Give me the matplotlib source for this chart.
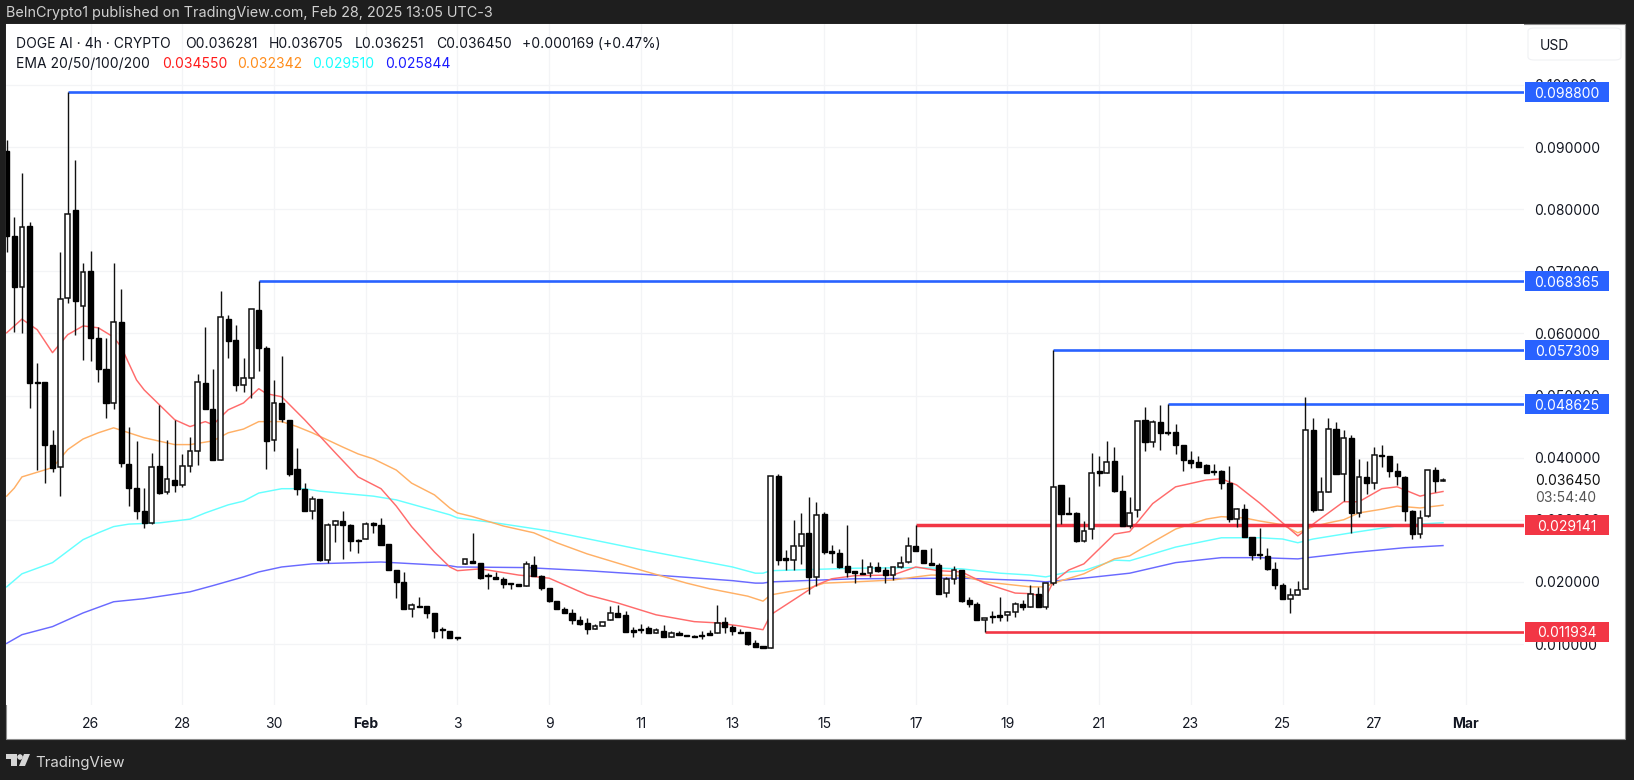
# DOGE AI 4h candles with EMA ribbon and support / resistance levels
import numpy as np
import matplotlib
matplotlib.use("Agg")
import matplotlib.pyplot as plt
from matplotlib.patches import Rectangle, FancyBboxPatch, Polygon
from matplotlib.transforms import blended_transform_factory

plt.rcParams['font.family'] = ['Inter', 'DejaVu Sans']

# candles (first bar is 11 bars before the "26" tick)
first_bar = -11
opens = [
    .0894, .0757, .0675, .0773, .0522, .0522, .0421, .0385, .0657, .0799, .0644,
    .0701, .0593, .0543, .0488, .0619, .0390, .0351, .0314, .0295, .0387,
    .0345, .0364, .0356, .0387, .0411, .0520, .0478, .0396, .0623, .0590,
    .0517, .0528, .0638, .0577, .0428, .0488, .0461, .0382, .0350, .0314,
    .0334, .0235, .0292, .0298, .0292, .0268, .0269, .0294, .0292, .0261,
    .0219, .0200, .0157, .0161, .0161, .0150, .0123, .0121, .0111, .0229,
    .0234, .0231, .0211, .0208, .0205, .0198, .0197, .0194, .0227, .0210,
    .0190, .0169, .0157, .0150, .0139, .0134, .0124, .0129, .0139, .0150,
    .0147, .0122, .0124, .0126, .0118, .0121, .0112, .0117, .0114, .0113,
    .0115, .0118, .0118, .0136, .0128, .0120, .0119, .0102, .0096, .0094,
    .0371, .0238, .0235, .0258, .0279, .0208, .0309, .0249, .0247, .0226,
    .0217, .0215, .0214, .0224, .0219, .0211, .0224, .0232, .0258, .0252,
    .0231, .0227, .0182, .0205, .0219, .0171, .0165, .0139, .0144, .0146,
    .0147, .0152, .0165, .0160, .0181, .0160, .0198, .0356, .0311, .0311,
    .0266, .0285, .0378, .0376, .0395, .0346, .0290, .0315, .0461, .0425,
    .0458, .0441, .0441, .0421, .0396, .0393, .0388, .0378, .0379, .0359,
    .0301, .0318, .0272, .0245, .0242, .0221, .0195, .0172, .0179, .0189,
    .0445, .0316, .0345, .0446, .0373, .0432, .0311, .0369, .0359, .0404,
    .0402, .0379, .0369, .0314, .0277, .0306, .0380, .036281,
]
highs = [
    .0912, .0788, .0858, .0780, .0553, .0522, .0445, .0731, .0988, .0879, .0714,
    .0733, .0611, .0593, .0714, .0672, .0450, .0427, .0351, .0408, .0485,
    .0429, .0461, .0406, .0433, .0535, .0611, .0543, .0668, .0630, .0614,
    .0561, .0640, .0684, .0580, .0525, .0564, .0461, .0416, .0359, .0338,
    .0334, .0295, .0299, .0314, .0293, .0269, .0296, .0296, .0303, .0261,
    .0219, .0216, .0166, .0176, .0161, .0150, .0128, .0121, .0111, .0237,
    .0279, .0231, .0214, .0216, .0208, .0198, .0197, .0234, .0242, .0211,
    .0190, .0169, .0159, .0157, .0145, .0142, .0132, .0136, .0161, .0163,
    .0153, .0128, .0132, .0129, .0126, .0131, .0121, .0121, .0114, .0115,
    .0121, .0123, .0163, .0144, .0130, .0124, .0119, .0106, .0097, .0371,
    .0373, .0251, .0300, .0311, .0337, .0329, .0313, .0260, .0253, .0292,
    .0217, .0237, .0232, .0232, .0224, .0224, .0242, .0272, .0291, .0252,
    .0255, .0231, .0208, .0226, .0219, .0176, .0168, .0142, .0153, .0176,
    .0153, .0168, .0171, .0195, .0192, .0198, .0573, .0356, .0337, .0313,
    .0298, .0408, .0403, .0427, .0417, .0372, .0337, .0459, .0482, .0461,
    .0485, .0486, .0454, .0421, .0411, .0403, .0390, .0390, .0380, .0387,
    .0319, .0326, .0273, .0287, .0255, .0232, .0198, .0190, .0202, .0498,
    .0464, .0369, .0464, .0458, .0445, .0436, .0398, .0395, .0417, .0421,
    .0403, .0392, .0370, .0315, .0316, .0380, .0385, .036705,
]
lows = [
    .0731, .0602, .0601, .0480, .0380, .0359, .0377, .0338, .0649, .0598, .0557,
    .0556, .0522, .0464, .0478, .0385, .0322, .0301, .0287, .0293, .0342,
    .0342, .0345, .0353, .0377, .0388, .0478, .0396, .0396, .0561, .0507,
    .0506, .0496, .0540, .0382, .0411, .0458, .0371, .0340, .0314, .0301,
    .0234, .0231, .0264, .0237, .0250, .0247, .0269, .0279, .0260, .0219,
    .0174, .0157, .0144, .0160, .0142, .0110, .0110, .0110, .0107, .0229,
    .0231, .0205, .0189, .0205, .0190, .0189, .0194, .0193, .0209, .0187,
    .0168, .0156, .0150, .0132, .0131, .0116, .0124, .0129, .0139, .0144,
    .0119, .0112, .0118, .0118, .0118, .0112, .0112, .0115, .0113, .0111,
    .0108, .0114, .0118, .0118, .0115, .0118, .0099, .0095, .0093, .0094,
    .0227, .0219, .0219, .0229, .0181, .0194, .0245, .0231, .0222, .0208,
    .0198, .0212, .0208, .0216, .0198, .0203, .0223, .0231, .0249, .0231,
    .0227, .0181, .0176, .0197, .0168, .0160, .0139, .0119, .0134, .0137,
    .0137, .0144, .0155, .0160, .0160, .0156, .0195, .0293, .0309, .0265,
    .0265, .0269, .0355, .0375, .0345, .0290, .0287, .0305, .0411, .0417,
    .0413, .0437, .0406, .0379, .0384, .0385, .0375, .0372, .0350, .0297,
    .0289, .0272, .0235, .0237, .0219, .0189, .0172, .0150, .0179, .0189,
    .0313, .0315, .0345, .0373, .0330, .0279, .0305, .0342, .0350, .0385,
    .0369, .0356, .0298, .0269, .0271, .0305, .0345, .036251,
]
closes = [
    .0757, .0675, .0772, .0520, .0520, .0421, .0384, .0656, .0792, .0652, .0699,
    .0593, .0543, .0488, .0619, .0392, .0351, .0314, .0295, .0385, .0343,
    .0365, .0356, .0387, .0411, .0522, .0478, .0396, .0627, .0588, .0517,
    .0528, .0640, .0577, .0427, .0488, .0462, .0374, .0350, .0314, .0334,
    .0235, .0292, .0298, .0292, .0266, .0266, .0293, .0292, .0260, .0219,
    .0200, .0157, .0162, .0160, .0150, .0121, .0122, .0110, .0110, .0237,
    .0231, .0207, .0210, .0205, .0197, .0197, .0194, .0229, .0210, .0190,
    .0169, .0157, .0150, .0139, .0132, .0124, .0129, .0136, .0150, .0144,
    .0119, .0120, .0122, .0118, .0123, .0112, .0118, .0115, .0113, .0111,
    .0113, .0114, .0134, .0128, .0121, .0118, .0100, .0095, .0094, .0371,
    .0235, .0236, .0258, .0277, .0208, .0308, .0248, .0247, .0224, .0216,
    .0215, .0213, .0224, .0218, .0211, .0224, .0231, .0257, .0250, .0231,
    .0227, .0181, .0205, .0219, .0169, .0165, .0139, .0142, .0143, .0143,
    .0152, .0165, .0160, .0181, .0160, .0198, .0353, .0309, .0310, .0266,
    .0282, .0376, .0376, .0393, .0346, .0290, .0311, .0459, .0425, .0458,
    .0440, .0440, .0421, .0396, .0391, .0385, .0376, .0377, .0359, .0301,
    .0317, .0272, .0243, .0244, .0221, .0195, .0172, .0179, .0187, .0445,
    .0316, .0345, .0446, .0373, .0432, .0311, .0369, .0359, .0405, .0402,
    .0379, .0371, .0314, .0277, .0303, .0380, .0363, .036450,
]

# EMA curves, read at the bars where they bend
ema20_bars = [-11, -9, -7, -5, -3, -1, 1, 3, 4, 6, 7, 9, 11, 13, 15, 16, 18, 20, 22, 23, 25, 28, 32, 35, 38,
              40, 42, 45, 47, 48, 51, 56, 60, 65, 69, 74, 79, 82, 85, 88, 89, 95, 97, 100, 105, 108, 111,
              114, 117, 121, 123, 125, 126, 128, 130, 134, 136, 139, 142, 146, 148, 150, 153, 156, 158,
              160, 162, 164, 166, 169, 171, 173, 174, 175, 177]
ema20 = [.0601, .0623, .0606, .0569, .0598, .0612, .0609, .0594, .0578, .0525, .0509, .0485, .0461, .0450, .0458,
         .0453, .0477, .0488, .0511, .0503, .0498, .0461, .0408, .0369, .0350, .0322, .0289, .0248, .0224, .0218,
         .0221, .0211, .0206, .0179, .0166, .0147, .0136, .0134, .0129, .0123, .0147, .0195, .0205, .0210, .0211,
         .0224, .0218, .0216, .0198, .0182, .0181, .0176, .0200, .0219, .0229, .0277, .0281, .0326, .0353, .0364,
         .0366, .0356, .0327, .0295, .0274, .0293, .0311, .0329, .0329, .0350, .0353, .0343, .0338, .0341, .034550]
ema50_bars = [-11, -10, -9, -5, -3, -1, 1, 3, 5, 7, 11, 13, 16, 18, 20, 22, 25, 27, 29, 33, 35, 37, 40, 42, 45,
              47, 48, 50, 54, 58, 61, 65, 72, 78, 81, 86, 88, 89, 94, 96, 100, 105, 108, 110, 114, 117, 123,
              125, 126, 130, 134, 136, 139, 142, 146, 148, 151, 153, 156, 158, 160, 162, 164, 166, 169, 171,
              174, 177]
ema50 = [.0338, .0351, .0369, .0384, .0413, .0430, .0440, .0448, .0440, .0432, .0421, .0421, .0427, .0440, .0446,
         .0458, .0458, .0450, .0440, .0417, .0406, .0398, .0380, .0359, .0340, .0319, .0311, .0305, .0290, .0279,
         .0263, .0245, .0219, .0198, .0189, .0177, .0169, .0179, .0190, .0198, .0200, .0203, .0208, .0211, .0210,
         .0200, .0192, .0192, .0198, .0213, .0237, .0242, .0264, .0285, .0301, .0305, .0303, .0298, .0292, .0279,
         .0289, .0295, .0300, .0311, .0317, .0322, .0319, .032342]
ema100_bars = [-11, -9, -5, -1, 1, 3, 5, 9, 13, 15, 18, 20, 22, 25, 28, 30, 37, 40, 47, 48, 53, 60, 72, 84, 87,
               88, 89, 100, 108, 114, 119, 123, 125, 128, 130, 134, 136, 142, 148, 153, 156, 158, 160, 165,
               172, 177]
ema100 = [.0192, .0213, .0231, .0268, .0279, .0289, .0293, .0295, .0301, .0311, .0324, .0330, .0343, .0350, .0350,
          .0346, .0338, .0332, .0308, .0303, .0295, .0282, .0252, .0224, .0214, .0214, .0218, .0222, .0223, .0221,
          .0214, .0211, .0208, .0216, .0218, .0235, .0234, .0256, .0271, .0271, .0269, .0263, .0269, .0279, .0292,
          .029510]
ema200_bars = [-11, -9, -5, -1, 3, 7, 13, 16, 20, 22, 25, 29, 38, 47, 48, 57, 65, 75, 84, 87, 88, 89, 100, 114,
               123, 125, 130, 136, 142, 148, 153, 158, 160, 165, 172, 177]
ema200 = [.0101, .0115, .0128, .0150, .0168, .0173, .0184, .0194, .0208, .0216, .0224, .0229, .0232, .0226, .0224,
          .0223, .0218, .0210, .0202, .0198, .0198, .0200, .0205, .0206, .0202, .0200, .0206, .0214, .0231, .0239,
          .0239, .0237, .0240, .0247, .0255, .025844]

# drawn levels: start bar, price, label
level_bars = [-3, 22, 126, 141, 108, 117]
level_prices = [0.098800, 0.068365, 0.057309, 0.048625, 0.029141, 0.011934]
level_labels = ["0.098800", "0.068365", "0.057309", "0.048625", "0.029141", "0.011934"]
level_colors = ["#2962ff", "#2962ff", "#2962ff", "#2962ff", "#f23645", "#f23645"]

# axis ticks
date_bars = [0, 12, 24, 36, 48, 60, 72, 84, 96, 108, 120, 132, 144, 156, 168, 180]
date_labels = ["26", "28", "30", "Feb", "3", "9", "11", "13", "15", "17", "19", "21", "23", "25", "27", "Mar"]
price_ticks = [0.01, 0.02, 0.03, 0.04, 0.05, 0.06, 0.07, 0.08, 0.09, 0.10]

W, H = 1634, 780
DARK = "#1e1e1e"
TEXT = "#131722"


def figx(x):
    return x / W


def figy(y):
    return 1 - y / H


fig = plt.figure(figsize=(W / 100, H / 100), dpi=100, facecolor=DARK)

# white card behind pane + price scale
fig.add_artist(Rectangle((figx(6), figy(739)), 1619 / W, 715 / H, transform=fig.transFigure,
                         facecolor="white", edgecolor="#8c8c8c", lw=0.8, zorder=-1))

# pane from x=6 to x=1524, y=24 to y=705
ax = fig.add_axes([figx(6), figy(705), 1518 / W, 681 / H])
ax.set_facecolor("white")
ax.set_xlim((6 - 90.7) / 7.64, (1524 - 90.7) / 7.64)
ax.set_ylim(0.01 - 61 / 6212, 0.01 + 620 / 6212)
for s in ax.spines.values():
    s.set_visible(False)

ax.set_axisbelow(True)
ax.grid(True, color="#f3f4f6", lw=0.9)
ax.yaxis.tick_right()
ax.set_yticks(price_ticks)
ax.set_yticklabels(["%.6f" % p for p in price_ticks])
ax.set_xticks(date_bars)
ax.set_xticklabels(date_labels)
ax.tick_params(axis="y", length=0, pad=7.5, labelsize=10, labelcolor=TEXT)
ax.tick_params(axis="x", length=0, pad=9, labelsize=10, labelcolor=TEXT)
for lab in ax.get_xticklabels():
    if lab.get_text() in ("Feb", "Mar"):
        lab.set_fontweight("bold")

# EMAs sit under the candles
ax.plot(ema200_bars, ema200, color="#6a6aff", lw=1.05, zorder=2)
ax.plot(ema100_bars, ema100, color="#66ffff", lw=1.05, zorder=2)
ax.plot(ema50_bars, ema50, color="#ffb066", lw=1.05, zorder=2)
ax.plot(ema20_bars, ema20, color="#ff6b6b", lw=1.05, zorder=2)

# level lines and their pills on the price scale
trans = blended_transform_factory(ax.transAxes, ax.transData)
pill_left = 1519 / 1518
pill_dy = 10 / 6212
for bar, price, label, color in zip(level_bars, level_prices, level_labels, level_colors):
    thick = 2.5 if price == 0.029141 else 1.9
    ax.plot([bar, ax.get_xlim()[1]], [price, price], color=color, lw=thick, zorder=3, solid_capstyle="butt")
    ax.add_patch(FancyBboxPatch((pill_left, price - pill_dy), 84 / 1518, 2 * pill_dy, transform=trans,
                                boxstyle="square,pad=0", facecolor=color, edgecolor="none",
                                clip_on=False, zorder=6))
    ax.text(pill_left + 42 / 1518, price, label, transform=trans, color="white", fontsize=10,
            ha="center", va="center_baseline", zorder=7, clip_on=False)

# candles
bars = np.arange(first_bar, first_bar + len(opens))
o = np.array(opens)
c = np.array(closes)
ax.vlines(bars, lows, highs, color="#111111", lw=1.0, zorder=4)
up = c >= o
bottoms = np.minimum(o, c)
heights = np.maximum(np.abs(c - o), 0.00015)
ax.bar(bars[up], heights[up], bottom=bottoms[up], width=0.62, facecolor="white",
       edgecolor="#111111", lw=1.1, zorder=5)
ax.bar(bars[~up], heights[~up], bottom=bottoms[~up], width=0.66, facecolor="black",
       edgecolor="black", lw=1.0, zorder=5)

# last price and countdown on the scale
ax.text(1529 / 1518, closes[-1], "0.036450", transform=trans, color="#111111", fontsize=10,
        ha="left", va="center_baseline", clip_on=False, zorder=5)
fig.text(figx(1535), figy(497), "03:54:40", color="#555555", fontsize=10, va="center_baseline")

# header
fig.text(figx(6), figy(11), "BeInCrypto1 published on TradingView.com, Feb 28, 2025 13:05 UTC-3",
         color="#d0d0d0", fontsize=10.35, va="center_baseline")
header_x = [16, 185, 269, 355, 436, 522]
header_t = ["DOGE AI · 4h · CRYPTO", "O0.036281", "H0.036705", "L0.036251", "C0.036450", "+0.000169 (+0.47%)"]
for x, t in zip(header_x, header_t):
    fig.text(figx(x), figy(43), t, color=TEXT, fontsize=10, va="center_baseline")
ema_x = [16, 162, 237, 312, 385]
ema_t = ["EMA 20/50/100/200", "0.034550", "0.032342", "0.029510", "0.025844"]
ema_c = [TEXT, "#ff1a1a", "#ff8c1a", "#19ffff", "#1a1aff"]
for x, t, col in zip(ema_x, ema_t, ema_c):
    fig.text(figx(x), figy(63), t, color=col, fontsize=10, va="center_baseline")

# USD button
fig.add_artist(FancyBboxPatch((figx(1528), figy(60)), 93 / W, 32 / H, transform=fig.transFigure,
                              boxstyle="round,pad=0,rounding_size=0.004", facecolor="white",
                              edgecolor="#f0f1f4", lw=0.8))
fig.text(figx(1540), figy(44), "USD", color=TEXT, fontsize=10, va="center_baseline")

# TradingView logo and name
logo = "#d6d6d6"
fig.add_artist(Polygon([(figx(x), figy(y)) for x, y in
                        [(6, 754), (17, 754), (17, 766), (11, 766), (11, 759), (6, 759)]],
                       transform=fig.transFigure, facecolor=logo, edgecolor="none"))
fig.add_artist(Polygon([(figx(x), figy(y)) for x, y in
                        [(24, 754), (30, 754), (25, 766), (19, 766)]],
                       transform=fig.transFigure, facecolor=logo, edgecolor="none"))
fig.add_artist(Polygon([(figx(x), figy(y)) for x, y in
                        [(18, 755), (20, 754), (22, 755), (23, 757), (22, 759), (20, 760), (18, 759), (17, 757)]],
                       transform=fig.transFigure, facecolor=logo, edgecolor="none"))
fig.text(figx(35), figy(761), "TradingView", color=logo, fontsize=10.8, va="center_baseline")

fig.savefig("out.png", dpi=100, facecolor=DARK)
